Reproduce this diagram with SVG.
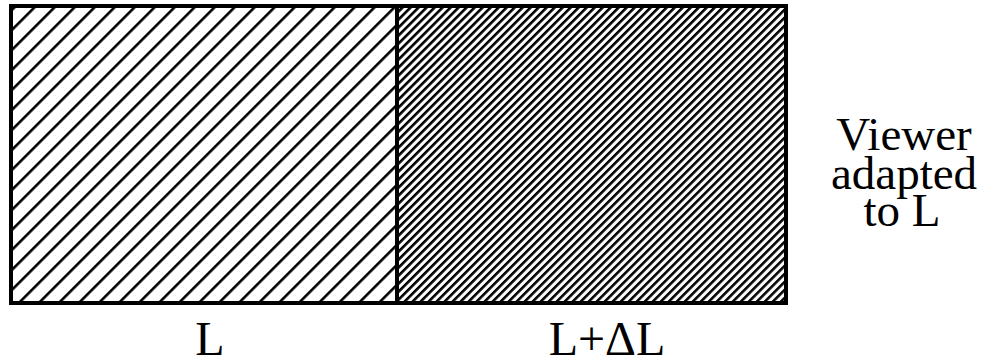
<svg xmlns="http://www.w3.org/2000/svg" width="982" height="362" viewBox="0 0 982 362">
<style>
.lbl{font-family:"Liberation Serif","Times New Roman",serif;font-size:48px;fill:#000;text-anchor:middle}
.side{font-family:"Liberation Serif","Times New Roman",serif;font-size:47px;fill:#000;text-anchor:middle}
</style>
<defs>
<pattern id="hL" patternUnits="userSpaceOnUse" width="14.14" height="14.14" patternTransform="rotate(45)">
<rect x="0" y="0" width="2.6" height="14.14" fill="#000"/>
</pattern>
<pattern id="hR" patternUnits="userSpaceOnUse" width="5.66" height="5.66" patternTransform="rotate(45)">
<rect x="0" y="0" width="2.6" height="5.66" fill="#000"/>
</pattern>
</defs>
<rect width="982" height="362" fill="#fff"/>
<g id="field-L">
<rect x="11" y="6" width="386" height="297" fill="url(#hL)"/>
</g>
<g id="field-LdL">
<rect x="397" y="6" width="389" height="297" fill="url(#hR)"/>
</g>
<g id="frame" fill="none" stroke="#000" stroke-width="4">
<rect x="11" y="6" width="775" height="297"/>
<line x1="397" y1="6" x2="397" y2="303"/>
</g>
<g id="connectors"></g>
<g id="labels">
<text class="lbl" x="210" y="355">L</text>
<text class="lbl" x="607" y="355">L+ΔL</text>
<text class="side" x="904" y="150">Viewer</text>
<text class="side" x="904" y="189">adapted</text>
<text class="side" x="902" y="226">to L</text>
</g>
</svg>
